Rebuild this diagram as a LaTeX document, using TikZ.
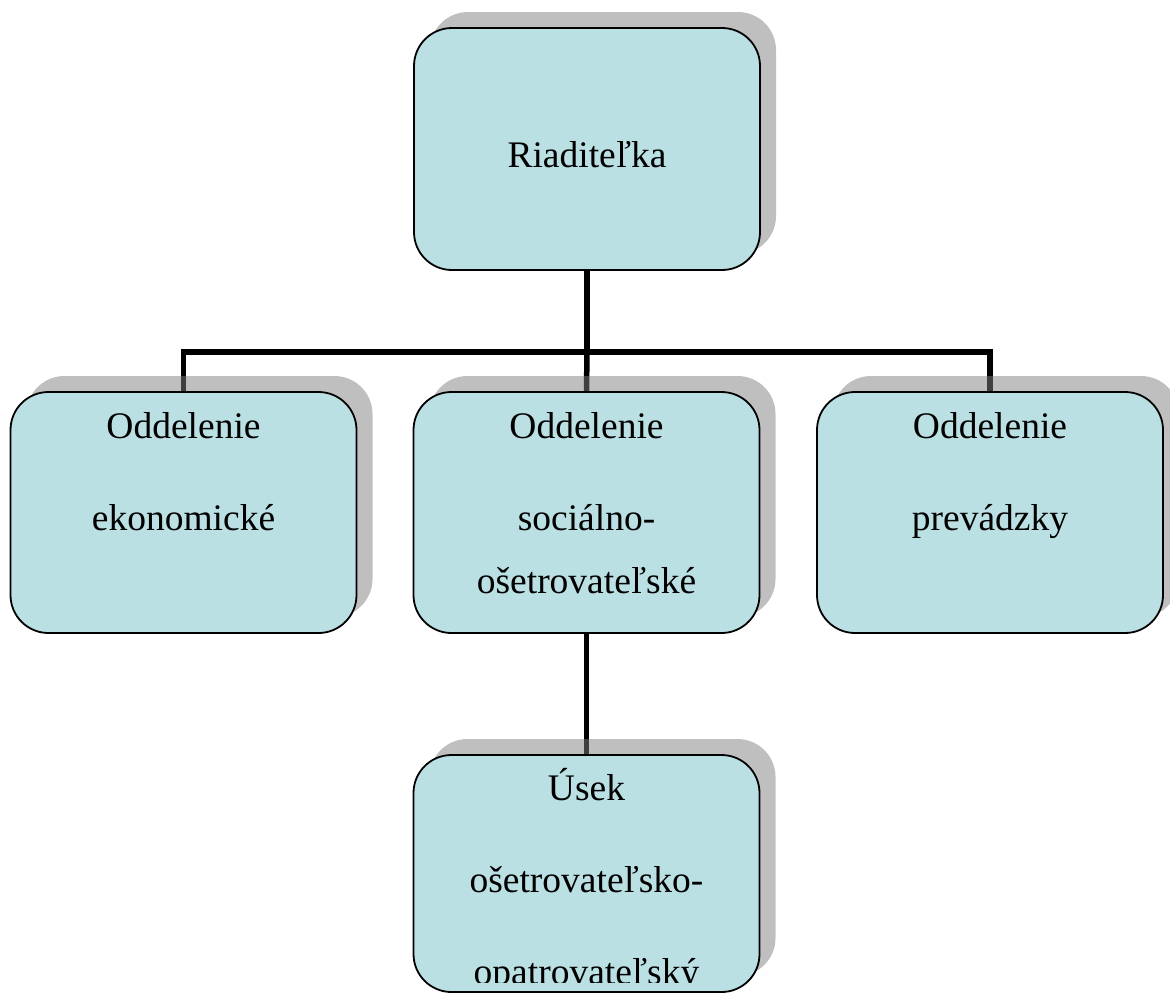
\documentclass[tikz,border=0pt]{standalone}
\usepackage{fontspec}
\setmainfont{Liberation Serif}
\usetikzlibrary{shadows}
\pgfdeclarelayer{background}
\pgfsetlayers{background,main}
\definecolor{boxfill}{RGB}{187,224,227}
\tikzset{
  orgbox/.style={draw=black, line width=1.8pt, fill=boxfill, rounded corners=38pt,
    minimum width=346pt, inner sep=0pt,
    drop shadow={shadow xshift=16pt, shadow yshift=16pt, fill=black!50, opacity=0.5}},
  lbl/.style={anchor=base, inner sep=0pt, font=\fontsize{37.5}{37.5}\selectfont},
  conn/.style={draw=black, line width=5.5pt}
}
\begin{document}
\begin{tikzpicture}[x=1pt,y=-1pt]
\useasboundingbox (0,0) rectangle (1170,994);
\node[orgbox, minimum height=242pt] (top) at (587,149) {};
\node[orgbox, minimum height=241pt] (left) at (183.5,512.5) {};
\node[orgbox, minimum height=241pt] (mid) at (586.5,512.5) {};
\node[orgbox, minimum height=241pt] (right) at (990,512.5) {};
\node[orgbox, minimum height=237pt] (bottom) at (586.5,873.5) {};
\coordinate (bus) at (587,352);
\begin{pgfonlayer}{background}
\draw[conn] (top.south) -- (bus);
\draw[conn] (left.north) |- (bus) -| (right.north);
\draw[conn] (bus) -- (mid.north);
\draw[conn] (mid.south) -- (bottom.north);
\end{pgfonlayer}
\node[lbl] (t1) at (587,167) {Riaditeľka};
\node[lbl] (l1) at (183.5,438) {Oddelenie};
\node[lbl] (l2) at (183.5,530) {ekonomické};
\node[lbl] (m1) at (586.5,438) {Oddelenie};
\node[lbl] (m2) at (586.5,530) {sociálno-};
\node[lbl] (m3) at (586.5,593) {ošetrovateľské};
\node[lbl] (r1) at (990,438) {Oddelenie};
\node[lbl] (r2) at (990,530) {prevádzky};
\node[lbl] (b1) at (586.5,800) {Úsek};
\node[lbl] (b2) at (586.5,892) {ošetrovateľsko-};
\begin{scope}
\clip (400,740) rectangle (800,982);
\node[lbl] (b3) at (586.5,984) {opatrovateľský};
\end{scope}
\end{tikzpicture}
\end{document}
